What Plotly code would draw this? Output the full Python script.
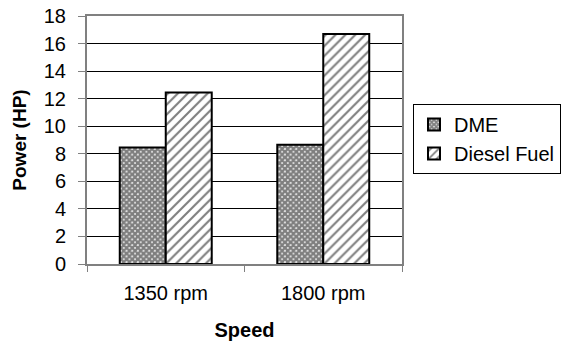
import plotly.graph_objects as go

categories = ["1350 rpm", "1800 rpm"]
dme = [8.45, 8.65]
diesel = [12.45, 16.7]
y_ticks = list(range(0, 19, 2))

FONT = "Liberation Sans, Arial, sans-serif"

fig = go.Figure()
fig.add_trace(go.Bar(
    name="DME", x=categories, y=dme,
    marker=dict(color="white", line=dict(color="black", width=2),
                pattern=dict(shape="x", size=4, solidity=0.85, fgcolor="black", bgcolor="white")),
))
fig.add_trace(go.Bar(
    name="Diesel Fuel", x=categories, y=diesel,
    marker=dict(color="white", line=dict(color="black", width=2),
                pattern=dict(shape="/", size=7, solidity=0.3, fgcolor="black", bgcolor="white")),
))

fig.update_layout(
    width=563, height=343,
    margin=dict(l=87, r=161, t=16, b=79, autoexpand=False),
    paper_bgcolor="white", plot_bgcolor="white",
    barmode="group", bargap=0.416, bargroupgap=0,
    font=dict(family=FONT, size=20, color="black"),
    showlegend=True,
    legend=dict(xref="container", yref="container",
                x=413 / 563, xanchor="left", y=1 - 139 / 343, yanchor="middle",
                bordercolor="black", borderwidth=1, bgcolor="white",
                font=dict(size=20), itemwidth=30, tracegroupgap=0),
    xaxis=dict(
        title=dict(text="<b>Speed</b>", font=dict(size=20), standoff=20),
        showline=True, linecolor="#808080", linewidth=2, mirror=True,
        ticks="outside", tickson="boundaries", ticklen=6, tickcolor="#808080",
        ticklabelstandoff=10,
        showgrid=False,
    ),
    yaxis=dict(
        title=dict(text="<b>Power (HP)</b>", font=dict(size=19), standoff=12),
        range=[0, 18], tickvals=y_ticks,
        showline=True, linecolor="#808080", linewidth=2, mirror=True,
        ticks="outside", ticklen=7, tickcolor="#808080",
        ticklabelstandoff=8,
        showgrid=True, gridcolor="black", gridwidth=1,
        zeroline=False,
    ),
)

fig.write_html("out.html")
